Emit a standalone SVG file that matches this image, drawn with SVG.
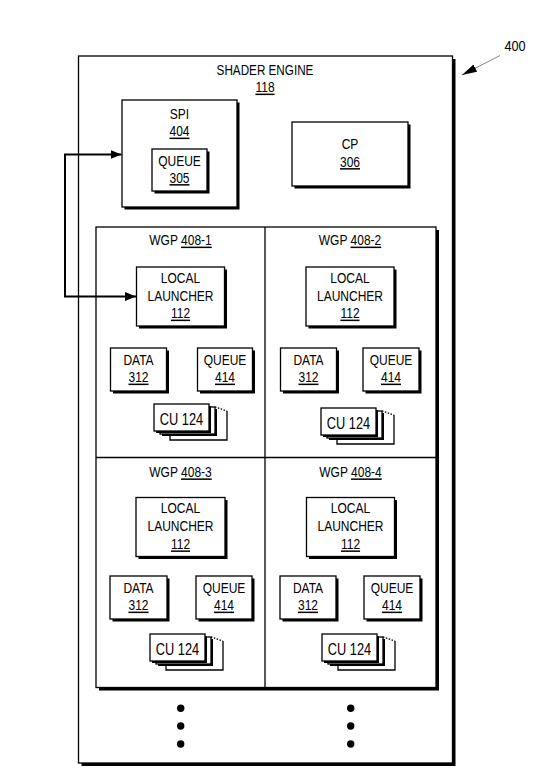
<svg xmlns="http://www.w3.org/2000/svg" width="543" height="781" viewBox="0 0 543 781">
<style>
.t{font-family:"Liberation Sans",Arial,sans-serif;font-size:15px;fill:#000;text-anchor:middle}
.cu{font-size:16px}
.u{text-decoration:underline}
.bx{fill:#fff;stroke:#000;stroke-width:1.3}
.sh{fill:#000}
.ln{fill:none;stroke:#000;stroke-width:1.3}
.dot{fill:#000}
</style>
<defs>
<marker id="ah" markerUnits="userSpaceOnUse" markerWidth="12" markerHeight="10" refX="11" refY="4.5" orient="auto-start-reverse" viewBox="0 0 12 10">
<path d="M0,0 L11,4.5 L0,9 z" fill="#000"/>
</marker>
<marker id="ah2" markerUnits="userSpaceOnUse" markerWidth="16" markerHeight="10" refX="15" refY="4" orient="auto" viewBox="0 0 16 10">
<path d="M0,0 L15,4 L0,8 z" fill="#000"/>
</marker>
<g id="custack">
<rect x="16" y="7" width="57" height="29" fill="#fff"/>
<path d="M73,7 V36 H16 V30" class="ln"/>
<path d="M61,3 L73,7" fill="none" stroke="#000" stroke-width="1.3" stroke-dasharray="1.5,1.5"/>
<rect x="8" y="5" width="55" height="27" class="sh"/>
<rect x="6" y="3" width="55" height="27" class="bx"/>
<rect x="2" y="2" width="55" height="27" class="sh"/>
<rect x="0" y="0" width="55" height="27" class="bx"/>
<text transform="translate(27.5,0) scale(.8,1)" y="21" class="t cu">CU 124</text>
</g>
</defs>

<g id="shader-engine">
<rect x="81.5" y="59" width="374" height="707" class="sh"/>
<rect x="78.5" y="56" width="374" height="707" class="bx"/>
<text transform="translate(265,0) scale(.78,1)" y="75" class="t">SHADER ENGINE</text>
<text transform="translate(265,0) scale(.8,1)" y="92.5" class="t"><tspan class="u">118</tspan></text>
</g>

<g id="label-400">
<text transform="translate(515,0) scale(.85,1)" y="51.5" class="t">400</text>
<line x1="500" y1="55.5" x2="462" y2="75" stroke="#888" stroke-width="1" marker-end="url(#ah2)"/>
</g>

<g id="spi">
<rect x="124.5" y="102.5" width="115" height="107" class="sh"/>
<rect x="122" y="100" width="115" height="107" class="bx"/>
<text transform="translate(179.5,0) scale(.8,1)" y="119" class="t">SPI</text>
<text transform="translate(179.5,0) scale(.8,1)" y="136.5" class="t"><tspan class="u">404</tspan></text>
</g>

<g id="queue-305">
<rect x="154.5" y="151.5" width="55" height="42" class="sh"/>
<rect x="152" y="149" width="55" height="42" class="bx"/>
<text transform="translate(179.5,0) scale(.8,1)" y="166" class="t">QUEUE</text>
<text transform="translate(179.5,0) scale(.8,1)" y="183" class="t"><tspan class="u">305</tspan></text>
</g>

<g id="cp">
<rect x="294.5" y="124.5" width="116" height="64" class="sh"/>
<rect x="292" y="122" width="116" height="64" class="bx"/>
<text transform="translate(350,0) scale(.8,1)" y="149.5" class="t">CP</text>
<text transform="translate(350,0) scale(.8,1)" y="167" class="t"><tspan class="u">306</tspan></text>
</g>

<g id="wgp-grid">
<rect x="99" y="230" width="340" height="460.5" class="sh"/>
<rect x="96" y="227" width="340" height="460.5" class="bx"/>
<line x1="265" y1="227" x2="265" y2="687.5" class="ln"/>
<line x1="96" y1="457.5" x2="436" y2="457.5" class="ln"/>
</g>

<g id="wgp-408-1">
<text transform="translate(180.5,0) scale(.8,1)" y="245.5" class="t">WGP <tspan class="u">408-1</tspan></text>
<g id="ll-1">
<rect x="139" y="269.5" width="88" height="59" class="sh"/>
<rect x="136.5" y="267" width="88" height="59" class="bx"/>
<text transform="translate(180.5,0) scale(.8,1)" y="283.5" class="t">LOCAL</text>
<text transform="translate(180.5,0) scale(.8,1)" y="301" class="t">LAUNCHER</text>
<text transform="translate(180.5,0) scale(.8,1)" y="318.5" class="t"><tspan class="u">112</tspan></text>
</g>
<g id="data-1">
<rect x="113" y="350.5" width="56" height="43" class="sh"/>
<rect x="110.5" y="348" width="56" height="43" class="bx"/>
<text transform="translate(138.5,0) scale(.8,1)" y="365" class="t">DATA</text>
<text transform="translate(138.5,0) scale(.8,1)" y="382.5" class="t"><tspan class="u">312</tspan></text>
</g>
<g id="queue-1">
<rect x="200" y="350.5" width="55" height="43" class="sh"/>
<rect x="197.5" y="348" width="55" height="43" class="bx"/>
<text transform="translate(225,0) scale(.8,1)" y="365" class="t">QUEUE</text>
<text transform="translate(225,0) scale(.8,1)" y="382.5" class="t"><tspan class="u">414</tspan></text>
</g>
<use id="cu-1" href="#custack" x="154" y="404"/>
</g>

<g id="wgp-408-2">
<text transform="translate(350,0) scale(.8,1)" y="245.5" class="t">WGP <tspan class="u">408-2</tspan></text>
<g id="ll-2">
<rect x="308.5" y="269.5" width="88" height="59" class="sh"/>
<rect x="306" y="267" width="88" height="59" class="bx"/>
<text transform="translate(350,0) scale(.8,1)" y="283.5" class="t">LOCAL</text>
<text transform="translate(350,0) scale(.8,1)" y="301" class="t">LAUNCHER</text>
<text transform="translate(350,0) scale(.8,1)" y="318.5" class="t"><tspan class="u">112</tspan></text>
</g>
<g id="data-2">
<rect x="283" y="350.5" width="56" height="43" class="sh"/>
<rect x="280.5" y="348" width="56" height="43" class="bx"/>
<text transform="translate(308.5,0) scale(.8,1)" y="365" class="t">DATA</text>
<text transform="translate(308.5,0) scale(.8,1)" y="382.5" class="t"><tspan class="u">312</tspan></text>
</g>
<g id="queue-2">
<rect x="365.5" y="350.5" width="56" height="43" class="sh"/>
<rect x="363" y="348" width="56" height="43" class="bx"/>
<text transform="translate(391,0) scale(.8,1)" y="365" class="t">QUEUE</text>
<text transform="translate(391,0) scale(.8,1)" y="382.5" class="t"><tspan class="u">414</tspan></text>
</g>
<use id="cu-2" href="#custack" x="321" y="408"/>
</g>

<g id="wgp-408-3">
<text transform="translate(180.5,0) scale(.8,1)" y="477.3" class="t">WGP <tspan class="u">408-3</tspan></text>
<g id="ll-3">
<rect x="138.5" y="500" width="89" height="59" class="sh"/>
<rect x="136" y="497.5" width="89" height="59" class="bx"/>
<text transform="translate(180.5,0) scale(.8,1)" y="513.5" class="t">LOCAL</text>
<text transform="translate(180.5,0) scale(.8,1)" y="531.5" class="t">LAUNCHER</text>
<text transform="translate(180.5,0) scale(.8,1)" y="549.3" class="t"><tspan class="u">112</tspan></text>
</g>
<g id="data-3">
<rect x="112.5" y="578.5" width="57" height="43" class="sh"/>
<rect x="110" y="576" width="57" height="43" class="bx"/>
<text transform="translate(138.5,0) scale(.8,1)" y="592.7" class="t">DATA</text>
<text transform="translate(138.5,0) scale(.8,1)" y="610.5" class="t"><tspan class="u">312</tspan></text>
</g>
<g id="queue-3">
<rect x="198.5" y="578.5" width="56" height="43" class="sh"/>
<rect x="196" y="576" width="56" height="43" class="bx"/>
<text transform="translate(224,0) scale(.8,1)" y="592.7" class="t">QUEUE</text>
<text transform="translate(224,0) scale(.8,1)" y="610.5" class="t"><tspan class="u">414</tspan></text>
</g>
<use id="cu-3" href="#custack" x="150" y="634"/>
</g>

<g id="wgp-408-4">
<text transform="translate(350.5,0) scale(.8,1)" y="477.3" class="t">WGP <tspan class="u">408-4</tspan></text>
<g id="ll-4">
<rect x="309" y="500" width="88" height="59" class="sh"/>
<rect x="306.5" y="497.5" width="88" height="59" class="bx"/>
<text transform="translate(350.5,0) scale(.8,1)" y="513.5" class="t">LOCAL</text>
<text transform="translate(350.5,0) scale(.8,1)" y="531.5" class="t">LAUNCHER</text>
<text transform="translate(350.5,0) scale(.8,1)" y="549.3" class="t"><tspan class="u">112</tspan></text>
</g>
<g id="data-4">
<rect x="282.5" y="578.5" width="56" height="43" class="sh"/>
<rect x="280" y="576" width="56" height="43" class="bx"/>
<text transform="translate(308,0) scale(.8,1)" y="592.7" class="t">DATA</text>
<text transform="translate(308,0) scale(.8,1)" y="610.5" class="t"><tspan class="u">312</tspan></text>
</g>
<g id="queue-4">
<rect x="366.5" y="578.5" width="56" height="43" class="sh"/>
<rect x="364" y="576" width="56" height="43" class="bx"/>
<text transform="translate(392,0) scale(.8,1)" y="592.7" class="t">QUEUE</text>
<text transform="translate(392,0) scale(.8,1)" y="610.5" class="t"><tspan class="u">414</tspan></text>
</g>
<use id="cu-4" href="#custack" x="322" y="634"/>
</g>

<g id="ellipsis">
<circle cx="180.7" cy="708.3" r="3.7" class="dot"/>
<circle cx="180.7" cy="726" r="3.7" class="dot"/>
<circle cx="180.7" cy="744" r="3.7" class="dot"/>
<circle cx="350.7" cy="708.3" r="3.7" class="dot"/>
<circle cx="350.7" cy="726" r="3.7" class="dot"/>
<circle cx="350.7" cy="744" r="3.7" class="dot"/>
</g>

<g id="connectors">
<path d="M121.5,154.5 H65 V296.5 H136" fill="none" stroke="#000" stroke-width="2" marker-start="url(#ah)" marker-end="url(#ah)"/>
</g>
</svg>
